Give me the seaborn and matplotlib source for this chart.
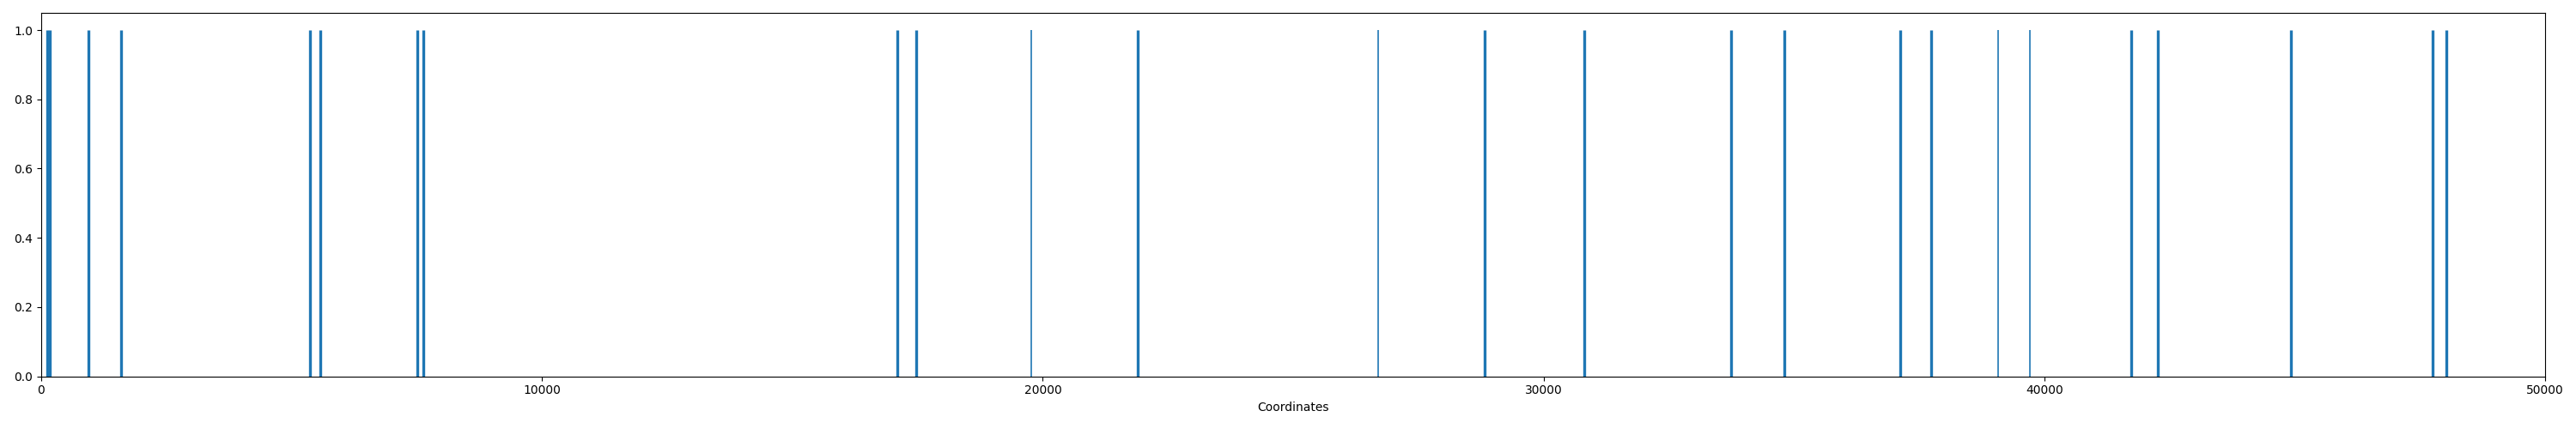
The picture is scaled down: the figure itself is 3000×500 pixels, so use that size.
import matplotlib
matplotlib.use("Agg")
import matplotlib.pyplot as plt
import seaborn as sns

positions = [113, 178, 943, 1600, 5372, 5569, 7515, 7635, 17095, 17478, 19764, 21897,
             26700, 28830, 30820, 33740, 34810, 37130, 37740, 39080, 39720, 41740,
             42260, 44920, 47760, 48020]
values = [1.0] * len(positions)
thin = {19764, 26700, 39080, 39720}

plt.rcParams.update(plt.rcParamsDefault)
fig, ax = plt.subplots(figsize=(30, 5), dpi=100)
fig.subplots_adjust(left=0.016, right=0.988, top=0.97, bottom=0.123)
lw = [1.2 if p in thin else 2.4 for p in positions]
ax.vlines(positions, 0, values, colors=sns.color_palette()[0], linewidths=lw)
ax.set_xlim(0, 50000)
ax.set_ylim(0, 1.05)
ax.set_xlabel("Coordinates")
fig.savefig("out.png")
